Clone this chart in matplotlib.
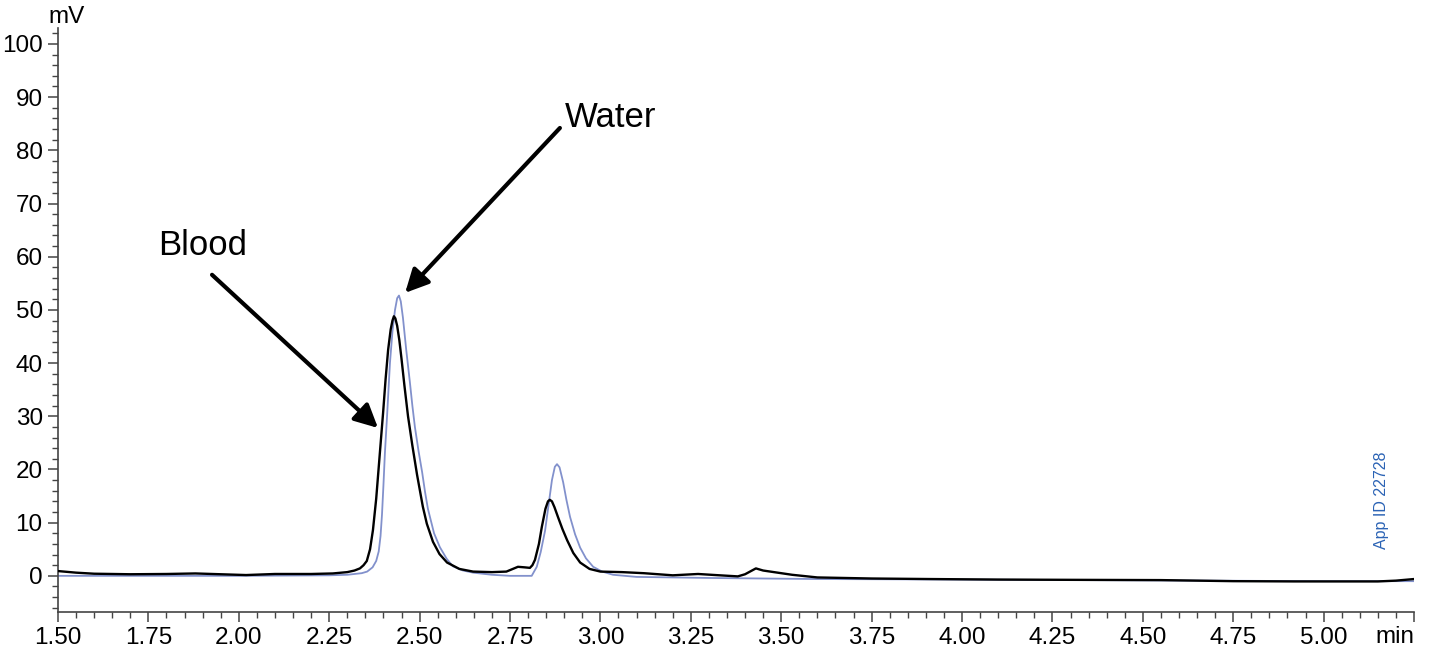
import matplotlib
matplotlib.use("Agg")
import matplotlib.pyplot as plt
from matplotlib.ticker import MultipleLocator, FormatStrFormatter

plt.rcParams['font.family'] = ['Liberation Sans', 'DejaVu Sans']

# blood sample trace (black), minutes / mV
blood_t = [1.50, 1.55, 1.60, 1.70, 1.80, 1.88, 1.95, 2.02, 2.10, 2.20, 2.26, 2.30, 2.32,
           2.335, 2.345, 2.354, 2.363, 2.371, 2.38, 2.39, 2.399, 2.406, 2.413, 2.42, 2.425,
           2.429, 2.433, 2.438, 2.444, 2.45, 2.458, 2.468, 2.48, 2.493, 2.509, 2.52, 2.537,
           2.555, 2.576, 2.61, 2.648, 2.70, 2.74, 2.772, 2.79, 2.805, 2.812, 2.819, 2.83,
           2.838, 2.848, 2.855, 2.86, 2.866, 2.873, 2.883, 2.895, 2.908, 2.925, 2.944, 2.97,
           3.00, 3.06, 3.12, 3.20, 3.27, 3.33, 3.38, 3.40, 3.43, 3.45, 3.48, 3.53, 3.60,
           3.75, 3.91, 4.10, 4.30, 4.55, 4.75, 4.92, 5.05, 5.15, 5.20, 5.25]
blood_mv = [0.9, 0.6, 0.4, 0.3, 0.35, 0.45, 0.3, 0.15, 0.35, 0.35, 0.45, 0.7, 1.0,
            1.4, 2.0, 2.8, 5.0, 8.6, 14.5, 23.0, 30.6, 37.0, 42.5, 46.3, 48.0,
            48.8, 48.4, 47.0, 44.3, 40.8, 35.8, 30.0, 24.5, 19.0, 13.0, 9.8, 6.4,
            4.1, 2.5, 1.3, 0.8, 0.7, 0.8, 1.7, 1.6, 1.5, 2.0, 3.0, 6.0,
            9.2, 12.6, 14.0, 14.3, 14.0, 12.9, 11.0, 8.8, 6.7, 4.3, 2.5, 1.3,
            0.8, 0.7, 0.5, 0.1, 0.35, 0.1, -0.1, 0.3, 1.4, 1.0, 0.7, 0.2, -0.3,
            -0.5, -0.6, -0.7, -0.75, -0.8, -1.0, -1.05, -1.05, -1.05, -0.9, -0.6]

# water trace (blue)
water_t = [1.50, 2.00, 2.25, 2.30, 2.34, 2.355, 2.37, 2.38, 2.387, 2.392, 2.396, 2.400,
           2.404, 2.41, 2.418, 2.425, 2.432, 2.438, 2.443, 2.448, 2.454, 2.463, 2.473,
           2.48, 2.487, 2.497, 2.507, 2.515, 2.523, 2.54, 2.556, 2.575, 2.592, 2.62, 2.648,
           2.70, 2.75, 2.81, 2.824, 2.835, 2.847, 2.857, 2.866, 2.874, 2.88, 2.887, 2.897,
           2.906, 2.916, 2.93, 2.944, 2.96, 2.98, 3.005, 3.035, 3.10, 3.30, 3.60, 4.00,
           4.50, 5.00, 5.25]
water_mv = [0.0, 0.0, 0.1, 0.2, 0.5, 0.8, 1.6, 2.8, 4.6, 7.5, 11.5, 17.0,
            23.0, 30.0, 40.0, 46.0, 50.0, 52.2, 52.7, 51.6, 48.5, 42.5, 36.5,
            32.0, 28.0, 23.5, 19.5, 15.8, 12.6, 8.0, 5.4, 3.2, 1.8, 1.0, 0.6,
            0.2, 0.0, 0.0, 1.7, 4.5, 8.5, 13.5, 18.0, 20.5, 21.0, 20.4, 17.6,
            14.3, 11.1, 7.8, 5.3, 3.3, 1.7, 0.8, 0.2, -0.2, -0.4, -0.6, -0.7,
            -0.85, -1.0, -1.0]

fig = plt.figure(figsize=(14.35, 6.54), dpi=100)
ax = fig.add_axes([0.0404, 0.0642, 0.945, 0.893])

ax.plot(water_t, water_mv, color='#8291cc', lw=1.3, zorder=2)
ax.plot(blood_t, blood_mv, color='black', lw=1.7, zorder=3)

ax.set_xlim(1.5, 5.25)
ax.set_ylim(-6.8, 103)

ax.xaxis.set_major_locator(MultipleLocator(0.25))
ax.xaxis.set_minor_locator(MultipleLocator(0.05))
ax.xaxis.set_major_formatter(FormatStrFormatter('%.2f'))
ax.yaxis.set_major_locator(MultipleLocator(10))
ax.yaxis.set_minor_locator(MultipleLocator(2))

for s in ['top', 'right']:
    ax.spines[s].set_visible(False)
for s in ['left', 'bottom']:
    ax.spines[s].set_color('#444444')
    ax.spines[s].set_linewidth(1.2)

ax.tick_params(axis='both', which='major', length=7, width=1.1, color='#444444',
               labelsize=17.5, pad=4)
ax.tick_params(axis='both', which='minor', length=4, width=1.0, color='#444444')

# hide the 5.25 tick label, "min" sits there
fig.canvas.draw()
for lab in ax.get_xticklabels():
    if lab.get_text() == '5.25':
        lab.set_visible(False)

fig.text(48 / 1435, 1 - 17 / 654, 'mV', fontsize=17.5, ha='left', va='center')
fig.text(1414 / 1435, 1 - 637 / 654, 'min', fontsize=17.5, ha='right', va='center')

ax.text(2.902, 86.1, 'Water', fontsize=25, ha='left', va='center')
ax.text(1.777, 62.2, 'Blood', fontsize=25, ha='left', va='center')

arrow = dict(arrowstyle='-|>', lw=3, color='black', mutation_scale=35, shrinkA=0, shrinkB=0)
ax.annotate('', xy=(2.46, 53.2), xytext=(2.888, 84.2), arrowprops=arrow)
ax.annotate('', xy=(2.385, 27.8), xytext=(1.926, 56.6), arrowprops=arrow)

ax.text(5.159, 14.3, 'App ID 22728', color='#2b63b5', fontsize=11.5, rotation=90,
        ha='center', va='center')

fig.savefig('out.png', dpi=100)
